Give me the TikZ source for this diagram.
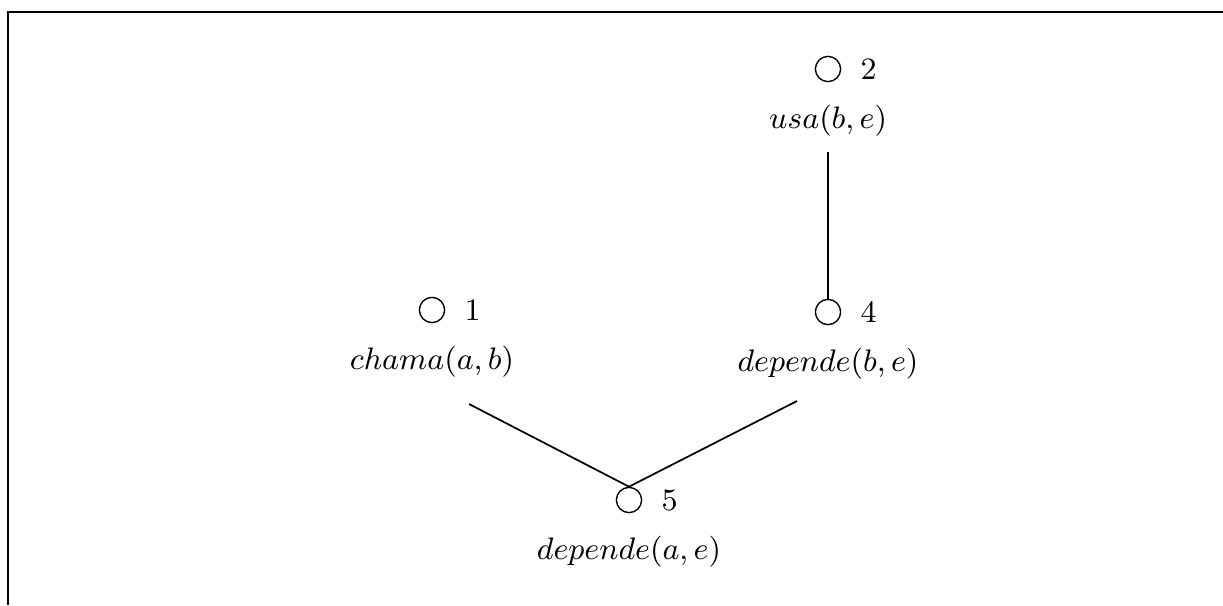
\documentclass[tikz,border=0pt]{standalone}
\usetikzlibrary{positioning}
\tikzset{
  goal/.style={draw, circle, thin, minimum size=7.3pt, inner sep=0pt},
  goalnum/.style={inner sep=0pt, font=\small},
  goaltext/.style={inner sep=0pt, font=\small},
  link/.style={draw, line width=0.5pt}
}

\begin{document}
\begin{tikzpicture}[x=0.2891pt, y=-0.2891pt]
  \useasboundingbox (0,0) rectangle (1223,605);
  % frame
  \draw[line width=0.8pt] (1223,12) -- (8,12) -- (8,605);
  % goals
  \node[goal] (n2) at (828,69) {};
  \node[goalnum, right=5.4pt of n2] (k2) {2};
  \node[goaltext, below=6.5pt of n2] (t2) {$usa(b,e)$};

  \node[goal] (n1) at (432,310) {};
  \node[goalnum, right=5.4pt of n1] (k1) {1};
  \node[goaltext, below=6.5pt of n1] (t1) {$chama(a,b)$};

  \node[goal] (n4) at (828,312) {};
  \node[goalnum, right=5.4pt of n4] (k4) {4};
  \node[goaltext, below=6.5pt of n4] (t4) {$depende(b,e)$};

  \node[goal] (n5) at (629,500) {};
  \node[goalnum, right=5.4pt of n5] (k5) {5};
  \node[goaltext, below=6.5pt of n5] (t5) {$depende(a,e)$};
  % links
  \coordinate (c2) at (828,152);
  \coordinate (c1) at (469,404);
  \coordinate (c4) at (797,401);
  \draw[link] (c2) -- (n4.north);
  \draw[link] (c1) -- (n5.north);
  \draw[link] (c4) -- (n5.north);
\end{tikzpicture}
\end{document}
